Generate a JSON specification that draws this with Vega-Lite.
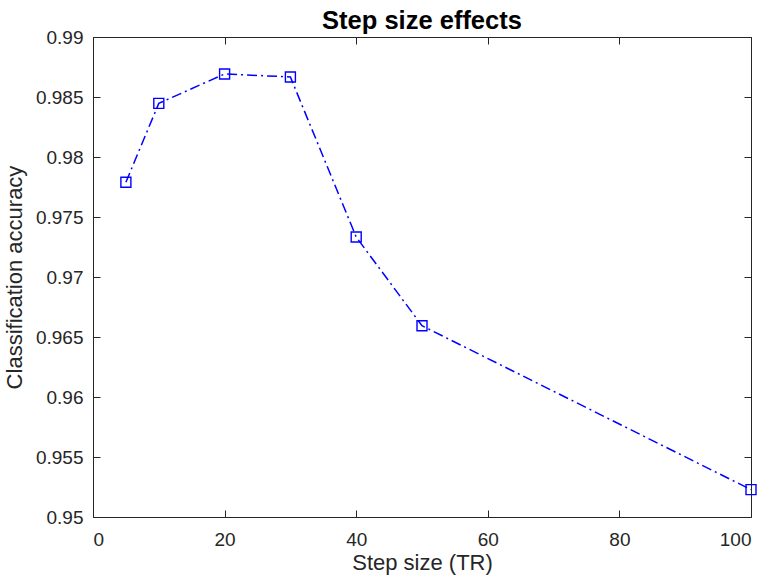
{
  "$schema": "https://vega.github.io/schema/vega-lite/v6.json",
  "width": 658,
  "height": 480,
  "autosize": {"type": "none"},
  "padding": {"left": 93, "top": 37, "right": 21, "bottom": 67},
  "background": "white",
  "title": {"text": "Step size effects", "font": "Liberation Sans", "fontSize": 25.5, "fontWeight": "bold", "color": "black", "offset": -6},
  "config": {
    "view": {"stroke": null},
    "axis": {
      "domainColor": "#262626",
      "domainWidth": 1,
      "tickColor": "#262626",
      "tickWidth": 1,
      "tickSize": -7,
      "labelColor": "#262626",
      "titleColor": "#262626",
      "labelFont": "Liberation Sans",
      "titleFont": "Liberation Sans",
      "labelFontSize": 19,
      "titleFontSize": 22,
      "titleFontWeight": "normal",
      "grid": false
    }
  },
  "data": {
    "values": [
      {"step": 5, "acc": 0.9779},
      {"step": 10, "acc": 0.98447},
      {"step": 20, "acc": 0.98692},
      {"step": 30, "acc": 0.98667},
      {"step": 40, "acc": 0.97333},
      {"step": 50, "acc": 0.96594},
      {"step": 100, "acc": 0.95228}
    ]
  },
  "layer": [
    {
      "mark": {"type": "line", "color": "#0000ff", "strokeWidth": 1.5, "strokeDash": [10, 4, 2, 4]},
      "encoding": {
        "x": {"field": "step", "type": "quantitative", "scale": {"domain": [0, 100]},
          "axis": {"orient": "bottom", "values": [0, 20, 40, 60, 80, 100], "title": "Step size (TR)", "labelPadding": 20, "titlePadding": 3}},
        "y": {"field": "acc", "type": "quantitative", "scale": {"domain": [0.95, 0.99], "zero": false},
          "axis": {"orient": "left", "values": [0.95, 0.955, 0.96, 0.965, 0.97, 0.975, 0.98, 0.985, 0.99], "format": ".3~f", "title": "Classification accuracy", "labelPadding": 17, "titlePadding": 9}}
      }
    },
    {
      "mark": {"type": "point", "shape": "square", "filled": false, "color": "#0000ff", "size": 100, "strokeWidth": 1.4, "opacity": 1},
      "encoding": {
        "x": {"field": "step", "type": "quantitative", "scale": {"domain": [0, 100]},
          "axis": {"orient": "top", "values": [0, 20, 40, 60, 80, 100], "labels": false, "title": null}},
        "y": {"field": "acc", "type": "quantitative", "scale": {"domain": [0.95, 0.99], "zero": false},
          "axis": {"orient": "right", "values": [0.95, 0.955, 0.96, 0.965, 0.97, 0.975, 0.98, 0.985, 0.99], "labels": false, "title": null}}
      }
    }
  ],
  "resolve": {"axis": {"x": "independent", "y": "independent"}}
}
